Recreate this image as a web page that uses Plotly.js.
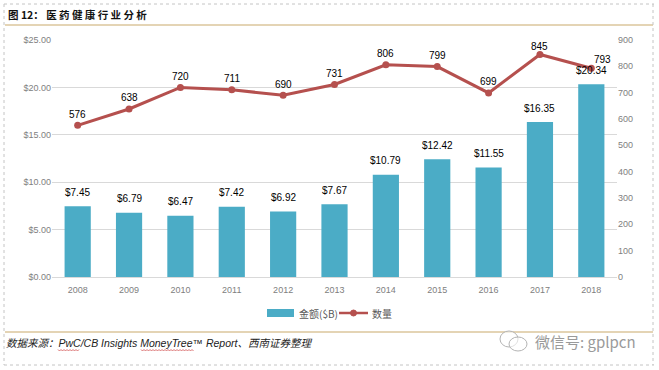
<!DOCTYPE html>
<html><head><meta charset="utf-8">
<script src="https://cdn.plot.ly/plotly-3.0.1.min.js"></script>
<style>html,body{margin:0;padding:0;background:#fff}</style></head>
<body><div id="chart" style="width:659px;height:370px"></div>
<script>
const years=['2008','2009','2010','2011','2012','2013','2014','2015','2016','2017','2018'];
const amount=[7.45,6.79,6.47,7.42,6.92,7.67,10.79,12.42,11.55,16.35,20.34];
const deals=[576,638,720,711,690,731,806,799,699,845,793];
const W=659,H=370;
const px=x=>x/W, py=y=>1-y/H;
const barColor='#4bacc6', lineColor='#b5504e', gold='#c9a96a', grey='#808080';
const sans='"Liberation Sans",Arial,sans-serif';
const mixed='"Liberation Sans","Noto Sans CJK SC",sans-serif';
const cjk='"Noto Sans CJK SC",sans-serif';
const ann=[];
amount.forEach((v,i)=>ann.push({x:i,y:v,xref:'x',yref:'y',text:'$'+v.toFixed(2),showarrow:false,yshift:14,font:{family:sans,size:10,color:'#000'}}));
deals.forEach((v,i)=>ann.push({x:i,y:v,xref:'x',yref:'y2',text:String(v),showarrow:false,yshift:i===9?8:(i===10?9:11),xshift:i===10?11:0,font:{family:sans,size:10,color:'#000'}}));
const txt=(x,y,text,font,xa)=>({xref:'paper',yref:'paper',x:px(x),y:py(y),text,showarrow:false,xanchor:xa||'left',yanchor:'middle',font});
ann.push(txt(6,14,'<b>图 12\uFF1A 医 药 健 康 行 业 分 析</b>',{family:cjk,size:10.5,color:'#111'}));
ann.push(txt(4,343,'<i>数据来源\uFF1APwC/CB Insights MoneyTree™ Report、西南证券整理</i>',{family:mixed,size:10.5,color:'#222'}));
ann.push(txt(533,341,'微信号: gplpcn',{family:cjk,size:15,color:'#9a9a9a'}));
ann.push(txt(297,313,'金额($B)',{family:cjk,size:10,color:'#595959'}));
ann.push(txt(370,313,'数量',{family:cjk,size:10,color:'#595959'}));
const P={xref:'paper',yref:'paper'};
const hline=(y,c)=>({...P,type:'line',x0:px(5),x1:px(653),y0:py(y),y1:py(y),line:{color:c,width:1}});
const dashed={color:'#c4c4c4',width:1,dash:'dot'};
const vline=(x)=>({...P,type:'line',x0:px(x),x1:px(x),y0:py(4),y1:py(365),line:dashed});
const dline=(y)=>({...P,type:'line',x0:px(4),x1:px(654),y0:py(y),y1:py(y),line:dashed});
const circle=(x0,y0,x1,y1,c,fill)=>({...P,type:'circle',x0:px(x0),x1:px(x1),y0:py(y0),y1:py(y1),line:{color:c,width:1},fillcolor:fill});
const wavy=(x0,x1,y)=>{let d='M '+px(x0)+' '+py(y);let up=true;for(let x=x0+1.5;x<=x1;x+=1.5){d+=' L '+px(x)+' '+py(y+(up?1.5:0));up=!up;}return {...P,type:'path',path:d,line:{color:'#d05050',width:0.8}};};
const shapes=[hline(25,gold),hline(332,gold),vline(4),vline(653),dline(4),dline(365),
  circle(500,331,518,347,'#b4b4b4','rgba(255,255,255,0.6)'),circle(509,337,527,351,'#b4b4b4','rgba(255,255,255,0.6)'),
  {...P,type:'rect',x0:px(267),x1:px(294),y0:py(317),y1:py(309),fillcolor:barColor,line:{width:0}},
  {...P,type:'line',x0:px(339),x1:px(368),y0:py(313),y1:py(313),line:{color:lineColor,width:2.5}},
  circle(350.5,310,356.5,316,lineColor,lineColor),
  wavy(58,80,349.5),wavy(141,194,349.5)];
const data=[
 {type:'bar',name:'金额($B)',x:years,y:amount,marker:{color:barColor},width:0.51,yaxis:'y',hoverinfo:'skip'},
 {type:'scatter',mode:'lines+markers',name:'数量',x:years,y:deals,yaxis:'y2',line:{color:lineColor,width:3},marker:{color:lineColor,size:7},hoverinfo:'skip'}
];
const tf={family:sans,size:9,color:grey};
const layout={
 width:W,height:H,margin:{l:0,r:0,t:0,b:0},paper_bgcolor:'#fff',plot_bgcolor:'#fff',showlegend:false,
 xaxis:{domain:[px(52),px(617)],type:'category',range:[-0.5,10.5],tickfont:tf,ticks:'',showline:true,linecolor:'#d9d9d9',linewidth:1,showgrid:false,ticklabelstandoff:4},
 yaxis:{domain:[py(277),py(40)],range:[0,25],dtick:5,tickformat:'$.2f',tickfont:tf,gridcolor:'#d9d9d9',gridwidth:1,zeroline:false,ticks:''},
 yaxis2:{domain:[py(277),py(40)],overlaying:'y',side:'right',range:[0,900],dtick:100,tickfont:tf,showgrid:false,zeroline:false,ticks:''},
 annotations:ann,shapes:shapes
};
Plotly.newPlot('chart',data,layout,{displayModeBar:false,staticPlot:true});
</script></body></html>
